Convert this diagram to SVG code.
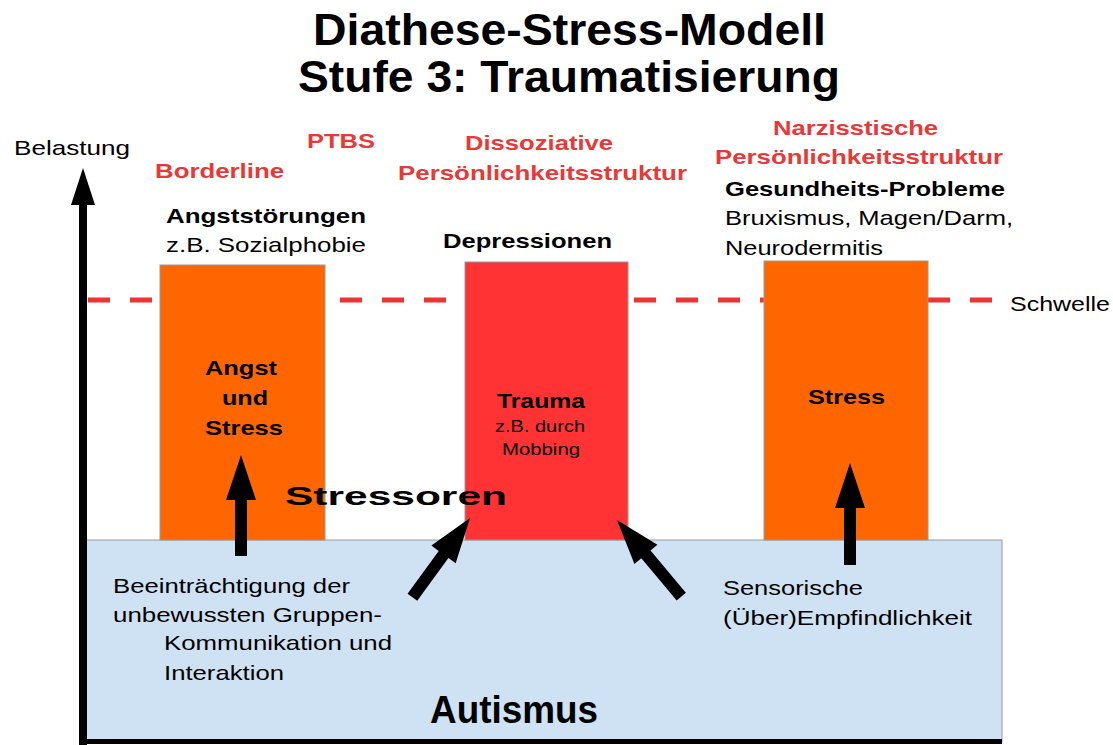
<svg xmlns="http://www.w3.org/2000/svg" width="1113" height="745" viewBox="0 0 1113 745">
<style>
text{font-family:"Liberation Sans",Arial,sans-serif;fill:#000}
.t{font-size:21px}
.b{font-weight:bold}
.r{fill:#e83838;font-weight:bold;font-size:21px}
.title{font-family:"Liberation Sans Narrow","Liberation Sans",sans-serif;font-weight:bold;font-size:44px}
.box{stroke:#999;stroke-width:1}
.arr{fill:#000}
</style>
<rect width="1113" height="745" fill="#fff"/>
<g id="title">
<text class="title" x="313" y="45" textLength="513" lengthAdjust="spacingAndGlyphs">Diathese-Stress-Modell</text>
<text class="title" x="298" y="92" textLength="542" lengthAdjust="spacingAndGlyphs">Stufe 3: Traumatisierung</text>
</g>
<g id="autismus">
<rect class="box" x="86" y="540" width="916" height="202" fill="#cfe2f3"/>
<text class="b" x="430" y="723" font-size="38" textLength="168" lengthAdjust="spacingAndGlyphs">Autismus</text>
<text class="t" x="113" y="593" textLength="237" lengthAdjust="spacingAndGlyphs">Beeinträchtigung der</text>
<text class="t" x="113" y="622" textLength="269" lengthAdjust="spacingAndGlyphs">unbewussten Gruppen-</text>
<text class="t" x="164" y="650" textLength="228" lengthAdjust="spacingAndGlyphs">Kommunikation und</text>
<text class="t" x="164" y="680" textLength="120" lengthAdjust="spacingAndGlyphs">Interaktion</text>
<text class="t" x="723" y="595" textLength="140" lengthAdjust="spacingAndGlyphs">Sensorische</text>
<text class="t" x="723" y="625" textLength="249" lengthAdjust="spacingAndGlyphs">(Über)Empfindlichkeit</text>
</g>
<g id="schwelle">
<line x1="88" y1="300" x2="992" y2="300" stroke="#ee3333" stroke-width="5" stroke-dasharray="22 20"/>
<text class="t" x="1010" y="311" textLength="100" lengthAdjust="spacingAndGlyphs">Schwelle</text>
</g>
<g id="axis">
<rect x="79" y="200" width="8" height="545"/>
<polygon points="83,168 71,205 95,205"/>
<rect x="80" y="739" width="922" height="5"/>
<text class="t" x="14" y="155" textLength="116" lengthAdjust="spacingAndGlyphs">Belastung</text>
</g>
<g id="angst">
<rect class="box" x="160" y="265" width="165" height="275" fill="#ff6600"/>
<text class="t b" x="205" y="375" textLength="72" lengthAdjust="spacingAndGlyphs">Angst</text>
<text class="t b" x="222" y="405" textLength="46" lengthAdjust="spacingAndGlyphs">und</text>
<text class="t b" x="205" y="435" textLength="78" lengthAdjust="spacingAndGlyphs">Stress</text>
</g>
<g id="trauma">
<rect class="box" x="465" y="262" width="163" height="278" fill="#ff3333"/>
<text class="t b" x="497" y="408" textLength="88" lengthAdjust="spacingAndGlyphs">Trauma</text>
<text x="495" y="432" font-size="16" textLength="90" lengthAdjust="spacingAndGlyphs">z.B. durch</text>
<text x="502" y="455" font-size="16" textLength="78" lengthAdjust="spacingAndGlyphs">Mobbing</text>
</g>
<g id="stress">
<rect class="box" x="764" y="261" width="164" height="279" fill="#ff6600"/>
<text class="t b" x="808" y="404" textLength="77" lengthAdjust="spacingAndGlyphs">Stress</text>
</g>
<g id="labels">
<text class="r" x="155" y="178" textLength="129" lengthAdjust="spacingAndGlyphs">Borderline</text>
<text class="r" x="307" y="148" textLength="68" lengthAdjust="spacingAndGlyphs">PTBS</text>
<text class="t b" x="166" y="223" textLength="200" lengthAdjust="spacingAndGlyphs">Angststörungen</text>
<text class="t" x="166" y="252" textLength="200" lengthAdjust="spacingAndGlyphs">z.B. Sozialphobie</text>
<text class="r" x="465" y="150" textLength="148" lengthAdjust="spacingAndGlyphs">Dissoziative</text>
<text class="r" x="398" y="180" textLength="289" lengthAdjust="spacingAndGlyphs">Persönlichkeitsstruktur</text>
<text class="t b" x="443" y="248" textLength="169" lengthAdjust="spacingAndGlyphs">Depressionen</text>
<text class="r" x="773" y="135" textLength="165" lengthAdjust="spacingAndGlyphs">Narzisstische</text>
<text class="r" x="715" y="164" textLength="288" lengthAdjust="spacingAndGlyphs">Persönlichkeitsstruktur</text>
<text class="t b" x="725" y="196" textLength="280" lengthAdjust="spacingAndGlyphs">Gesundheits-Probleme</text>
<text class="t" x="725" y="225" textLength="288" lengthAdjust="spacingAndGlyphs">Bruxismus, Magen/Darm,</text>
<text class="t" x="725" y="255" textLength="158" lengthAdjust="spacingAndGlyphs">Neurodermitis</text>
</g>
<g id="connectors">
<polygon class="arr" points="241,455 256,500 247,500 247,556 235,556 235,500 226,500"/>
<polygon class="arr" points="850,463 865,508 856,508 856,565 844,565 844,508 835,508"/>
<g transform="translate(470,518) rotate(126)">
<polygon class="arr" points="0,0 45,-15 45,-6 98,-6 98,6 45,6 45,15"/>
</g>
<g transform="translate(617,520) rotate(50)">
<polygon class="arr" points="0,0 45,-15 45,-6 100,-6 100,6 45,6 45,15"/>
</g>
<text class="b" x="285" y="505" font-size="25" textLength="222" lengthAdjust="spacingAndGlyphs">Stressoren</text>
</g>
</svg>
